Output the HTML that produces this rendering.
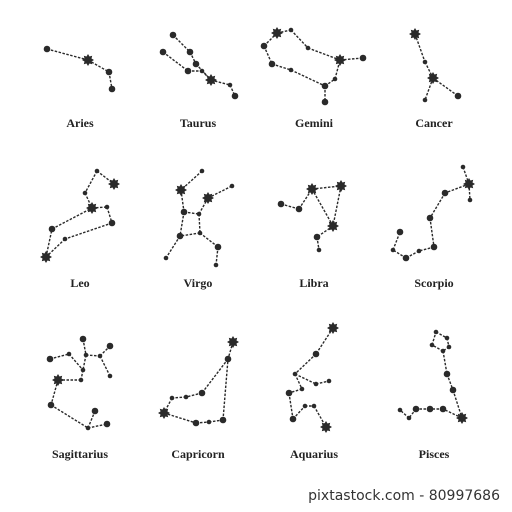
<!DOCTYPE html>
<html><head><meta charset="utf-8"><style>
body{margin:0;background:#fff}
svg{display:block}
.lbl{font-family:"Liberation Serif",serif;font-weight:bold;font-size:12px;fill:#222;text-anchor:middle}
</style></head><body>
<svg id="s" width="512" height="512">
<rect width="512" height="512" fill="#fff"/>
<text x="500" y="500" font-family="DejaVu Sans,sans-serif" font-size="14" fill="#333" text-anchor="end">pixtastock.com - 80997686</text>
</svg>
<script>
const names=["Aries","Taurus","Gemini","Cancer","Leo","Virgo","Libra","Scorpio","Sagittarius","Capricorn","Aquarius","Pisces"];
const labelPos=[[80,127],[198,127],[314,127],[434,127],[80,287],[198,287],[314,287],[434,287],[80,458],[198,458],[314,458],[434,458]];
// stars: [x,y,type] type: 0 small,1 dot,2 big star
const starsList=[
[[47,49,1],[88,60,2],[109,72,1],[112,89,1]],
[[173,35,1],[190,52,1],[196,64,1],[211,80,2],[230,85,0],[235,96,1],[163,52,1],[188,71,1],[202,71,0]],
[[277,33,2],[291,30,0],[308,48,0],[340,60,2],[363,58,1],[264,46,1],[272,64,1],[291,70,0],[325,86,1],[325,102,1],[335,79,0]],
[[415,34,2],[425,62,0],[433,78,2],[458,96,1],[425,100,0]],
[[97,171,0],[114,184,2],[85,193,0],[92,208,2],[107,207,0],[112,223,1],[52,229,1],[65,239,0],[46,257,2]],
[[202,171,0],[181,190,2],[232,186,0],[208,198,2],[184,212,1],[199,214,0],[180,236,1],[200,233,0],[218,247,1],[166,258,0],[216,265,0]],
[[281,204,1],[299,209,1],[312,189,2],[341,186,2],[333,226,2],[317,237,1],[319,250,0]],
[[463,167,0],[469,184,2],[470,200,0],[445,193,1],[430,218,1],[434,247,1],[419,251,0],[406,258,1],[393,250,0],[400,232,1]],
[[83,339,1],[50,359,1],[69,354,0],[86,355,0],[100,356,0],[110,346,1],[110,376,0],[83,370,0],[81,380,0],[58,380,2],[51,405,1],[88,428,0],[95,411,1],[107,424,1]],
[[233,342,2],[228,359,1],[202,393,1],[186,397,0],[172,398,0],[164,413,2],[196,423,1],[209,422,0],[223,420,1]],
[[333,328,2],[316,354,1],[295,374,0],[302,389,0],[289,393,1],[293,419,1],[305,406,0],[314,406,0],[326,427,2],[316,384,0],[329,381,0]],
[[436,332,0],[447,338,0],[432,345,0],[443,351,0],[449,347,0],[447,374,1],[453,390,1],[462,418,2],[443,409,1],[430,409,1],[416,409,1],[409,418,0],[400,410,0]]
];
const edgesList=[
[[0,1],[1,2],[2,3]],
[[0,1],[1,2],[2,3],[3,4],[4,5],[6,7],[7,8],[8,3]],
[[5,0],[0,1],[1,2],[2,3],[3,4],[5,6],[6,7],[7,8],[8,9],[8,10],[10,3]],
[[0,1],[1,2],[2,3],[2,4]],
[[0,1],[0,2],[2,3],[3,4],[4,5],[5,7],[7,8],[8,6],[6,3]],
[[0,1],[1,4],[4,6],[6,9],[4,5],[5,3],[3,2],[5,7],[7,6],[7,8],[8,10]],
[[0,1],[1,2],[2,3],[2,4],[3,4],[4,5],[5,6]],
[[0,1],[1,2],[1,3],[3,4],[4,5],[5,6],[6,7],[7,8],[8,9]],
[[1,2],[2,7],[7,8],[8,9],[9,10],[10,11],[11,12],[11,13],[0,3],[3,4],[4,5],[4,6],[3,7]],
[[0,1],[1,2],[2,3],[3,4],[4,5],[5,6],[6,7],[7,8],[8,1]],
[[0,1],[1,2],[2,3],[3,4],[4,5],[5,6],[6,7],[7,8],[2,9],[9,10]],
[[0,1],[1,4],[4,3],[3,2],[2,0],[3,5],[5,6],[6,7],[7,8],[8,9],[9,10],[10,11],[11,12]]
];
const svg=document.getElementById('s');
const NS='http://www.w3.org/2000/svg';
function starPath(x,y,R,r){let d='';for(let i=0;i<16;i++){const a=i*Math.PI/8;const rr=i%2?r:R;d+=(i?'L':'M')+(x+rr*Math.cos(a)).toFixed(1)+' '+(y+rr*Math.sin(a)).toFixed(1);}return d+'Z';}
names.forEach((n,ci)=>{
  const g=document.createElementNS(NS,'g');
  
  
  const st=starsList[ci];
  edgesList[ci].forEach(e=>{
    const l=document.createElementNS(NS,'line');
    
    
    l.setAttribute('x1',st[e[0]][0]);l.setAttribute('y1',st[e[0]][1]);
    l.setAttribute('x2',st[e[1]][0]);l.setAttribute('y2',st[e[1]][1]);
    l.setAttribute('stroke','#2a2a2a');l.setAttribute('stroke-width','1.4');l.setAttribute('stroke-dasharray','2.5 1.5');
    g.appendChild(l);
  });
  st.forEach(s=>{
    let el;
    if(s[2]===2){el=document.createElementNS(NS,'path');el.setAttribute('d',starPath(s[0],s[1],6,3.8));}
    else{el=document.createElementNS(NS,'circle');el.setAttribute('cx',s[0]);el.setAttribute('cy',s[1]);el.setAttribute('r',s[2]?3.3:2.3);}
    
    
    el.setAttribute('fill','#2a2a2a');
    g.appendChild(el);
  });
  const t=document.createElementNS(NS,'text');
  
  
  t.setAttribute('class','lbl');t.setAttribute('x',labelPos[ci][0]);t.setAttribute('y',labelPos[ci][1]);
  t.textContent=n;
  g.appendChild(t);
  svg.appendChild(g);
});
</script>
</body></html>
